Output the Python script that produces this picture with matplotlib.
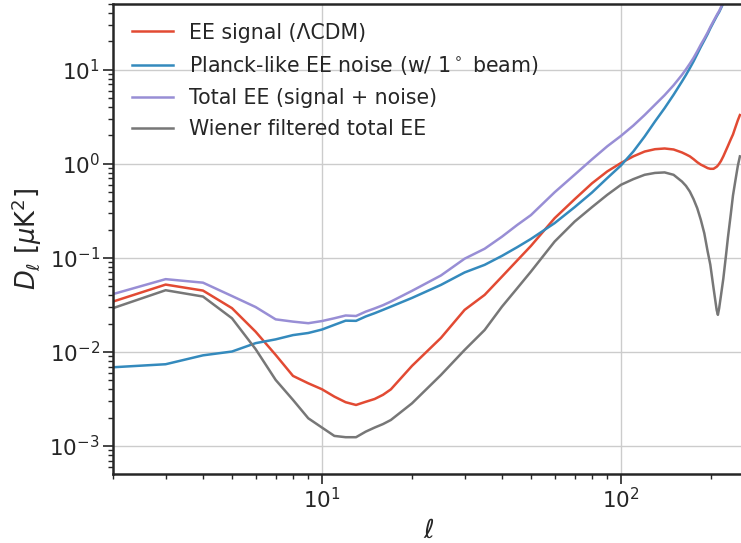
import matplotlib
matplotlib.use("Agg")
import matplotlib.pyplot as plt
from matplotlib.ticker import LogLocator, NullFormatter

# Multipoles at which the spectra are tabulated
ell = [2, 3, 4, 5, 6, 7, 8, 9, 10, 11, 12, 13, 14, 15, 16, 17, 20, 25, 30, 35,
       40, 45, 50, 60, 70, 80, 90, 100, 110, 120, 130, 140, 150, 160, 165, 170,
       175, 180, 185, 190, 195, 199, 204, 209, 211, 213, 216, 220, 225, 228,
       233, 237, 241, 246, 250]

# EE signal (LCDM), D_ell in muK^2
ee_signal = [0.0343, 0.052, 0.0449, 0.0292, 0.0164, 0.0093, 0.00556, 0.00464,
             0.00401, 0.00335, 0.00292, 0.00273, 0.00295, 0.00316, 0.0035,
             0.0040, 0.0071, 0.0141, 0.028, 0.0404, 0.0632, 0.094, 0.134,
             0.264, 0.42, 0.62, 0.83, 1.02, 1.2, 1.35, 1.43, 1.455, 1.42, 1.32,
             1.26, 1.2, 1.12, 1.04, 0.98, 0.94, 0.90, 0.885, 0.885, 0.93, 0.96,
             1.0, 1.07, 1.2, 1.41, 1.55, 1.82, 2.05, 2.4, 2.9, 3.3]

# Planck-like EE noise with a 1 degree beam
ee_noise = [0.00687, 0.0074, 0.0092, 0.0101, 0.0124, 0.0136, 0.0151, 0.0159,
            0.0173, 0.0194, 0.0215, 0.0214, 0.0238, 0.0258, 0.028, 0.0303,
            0.0375, 0.0516, 0.070, 0.0843, 0.105, 0.130, 0.159, 0.234, 0.346,
            0.495, 0.705, 0.96, 1.35, 1.95, 2.82, 3.91, 5.42, 7.5, 8.8, 10.4,
            12.3, 14.7, 17.5, 20.5, 24.0, 27.5, 32.0, 37.0, 39.0, 41.0, 45.0,
            51.0, 60.0, 66.0, 78.0, 90.0, 103.0, 122.0, 140.0]

# Total EE (signal + noise)
ee_total = [0.0412, 0.0594, 0.0545, 0.0393, 0.0300, 0.0222, 0.0210, 0.0202,
            0.0213, 0.0228, 0.0244, 0.0241, 0.0268, 0.0290, 0.0314, 0.0343,
            0.0446, 0.0650, 0.098, 0.125, 0.168, 0.224, 0.285, 0.498, 0.766,
            1.115, 1.535, 1.98, 2.55, 3.3, 4.25, 5.37, 6.84, 8.82, 10.1, 11.6,
            13.4, 15.7, 18.5, 21.4, 24.9, 28.4, 32.9, 37.9, 40.0, 42.0, 46.1,
            52.2, 61.4, 67.6, 79.8, 92.0, 105.4, 124.9, 143.3]

# Wiener filtered total EE
ee_wiener = [0.0292, 0.0453, 0.0388, 0.0228, 0.0107, 0.00504, 0.00309,
             0.00197, 0.00157, 0.00128, 0.00124, 0.00124, 0.00142, 0.00157,
             0.00171, 0.00189, 0.00284, 0.00569, 0.0105, 0.0171, 0.0303,
             0.0476, 0.0715, 0.149, 0.243, 0.346, 0.468, 0.598, 0.687, 0.764,
             0.80, 0.81, 0.764, 0.648, 0.583, 0.507, 0.42, 0.337, 0.254, 0.183,
             0.117, 0.085, 0.048, 0.028, 0.0248, 0.029, 0.0396, 0.060, 0.112,
             0.165, 0.29, 0.46, 0.64, 0.95, 1.2]

labels = ["EE signal (ΛCDM)",
          "Planck-like EE noise (w/ 1$^\\circ$ beam)",
          "Total EE (signal + noise)",
          "Wiener filtered total EE"]
colors = ["#E24A33", "#348ABD", "#988ED5", "#777777"]

plt.rcParams["font.family"] = ["DejaVu Sans"]
plt.rcParams["mathtext.fontset"] = "dejavusans"
text_color = "#262626"

fig = plt.figure(figsize=(7.41, 5.43), dpi=100)
ax = fig.add_axes([113 / 741, 69.5 / 543, 632 / 741, 469.5 / 543])

for series, label, color in zip([ee_signal, ee_noise, ee_total, ee_wiener],
                                labels, colors):
    ax.plot(ell, series, color=color, lw=1.8, label=label)

ax.set_xscale("log")
ax.set_yscale("log")
ax.set_xlim(2, 260)
ax.set_ylim(5.1e-4, 50)

ax.yaxis.set_major_locator(LogLocator(base=10, numticks=20))
ax.yaxis.set_minor_locator(LogLocator(base=10, subs=range(2, 10), numticks=50))
ax.yaxis.set_minor_formatter(NullFormatter())
ax.xaxis.set_minor_formatter(NullFormatter())

ax.grid(True, which="major", color="#cccccc", lw=1.0)
ax.set_axisbelow(True)

for side in ["left", "bottom", "top", "right"]:
    ax.spines[side].set_color(text_color)
    ax.spines[side].set_linewidth(1.8)

ax.tick_params(which="major", direction="out", length=7, width=1.2, pad=2.5,
               colors=text_color, labelsize=15.5)
ax.tick_params(which="minor", direction="out", length=3.5, width=1.0,
               colors=text_color)

ax.set_xlabel("$\\ell$", fontsize=18.5, color=text_color, labelpad=4)
ax.set_ylabel("$D_\\ell$ [$\\mu$K$^2$]", fontsize=18.5, color=text_color,
              labelpad=4)

leg = ax.legend(loc="upper left", frameon=False, fontsize=14.8,
                labelspacing=0.55)
for t in leg.get_texts():
    t.set_color(text_color)

fig.savefig("out.png", dpi=100)
